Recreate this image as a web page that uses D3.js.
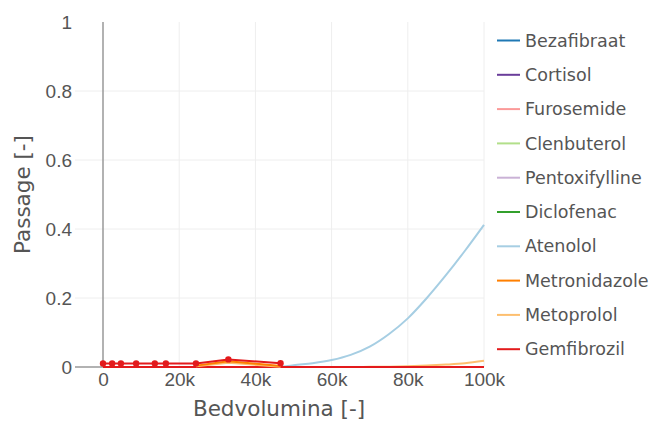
<!DOCTYPE html>
<html>
<head>
<meta charset="utf-8">
<script src="https://cdn.jsdelivr.net/npm/d3@7"></script>
<style>
  html, body { margin: 0; padding: 0; background: #fff; }
  svg { display: block; font-family: "DejaVu Sans", Verdana, sans-serif; }
</style>
</head>
<body>
<svg id="chart" width="654" height="433"></svg>
<script>
// Compounds and their line colours
const compounds = ["Bezafibraat", "Cortisol", "Furosemide", "Clenbuterol", "Pentoxifylline",
                   "Diclofenac", "Atenolol", "Metronidazole", "Metoprolol", "Gemfibrozil"];
const colors = ["#1f78b4", "#6a3d9a", "#fb9a99", "#b2df8a", "#cab2d6",
                "#33a02c", "#a6cee3", "#ff7f00", "#fdbf6f", "#e31a1c"];

// Modelled breakthrough curves (bed volumes vs. passage)
const modelX = [0, 45000, 48000, 50000, 55000, 60000, 65000, 70000, 75000, 80000, 85000, 90000, 95000, 100000];
const modelY = {
  Bezafibraat:    [0, 0, 0, 0, 0, 0, 0, 0, 0, 0, 0, 0, 0, 0],
  Cortisol:       [0, 0, 0, 0, 0, 0, 0, 0, 0, 0, 0, 0, 0, 0],
  Furosemide:     [0, 0, 0, 0, 0, 0, 0, 0, 0, 0, 0, 0, 0, 0],
  Clenbuterol:    [0, 0, 0, 0, 0, 0, 0, 0, 0, 0, 0, 0, 0, 0],
  Pentoxifylline: [0, 0, 0, 0, 0, 0, 0, 0, 0, 0, 0, 0, 0, 0],
  Diclofenac:     [0, 0, 0, 0, 0, 0, 0, 0, 0, 0, 0, 0, 0, 0],
  Atenolol:       [0, 0, 0.002, 0.005, 0.011, 0.02, 0.035, 0.059, 0.095, 0.141, 0.2, 0.266, 0.337, 0.412],
  Metronidazole:  [0, 0, 0, 0, 0, 0, 0, 0, 0, 0, 0, 0, 0, 0],
  Metoprolol:     [0, 0, 0, 0, 0, 0, 0, 0.0005, 0.001, 0.002, 0.004, 0.007, 0.011, 0.018],
  Gemfibrozil:    [0, 0, 0, 0, 0, 0, 0, 0, 0, 0, 0, 0, 0, 0]
};

// Measured samples
const gemX = [0, 2400, 4700, 8700, 13600, 16500, 24400, 32900, 46600];
const gemY = [0.01, 0.01, 0.01, 0.01, 0.01, 0.01, 0.01, 0.022, 0.011];
const sampleX = [24400, 32900, 46600];
const metronidazoleY = [0.004, 0.017, 0.003];
const metoprololY = [0.002, 0.012, 0.001];

// Axis ticks
const xTicks = [0, 20000, 40000, 60000, 80000, 100000];
const xTickLabels = ["0", "20k", "40k", "60k", "80k", "100k"];
const yTicks = [0, 0.2, 0.4, 0.6, 0.8, 1];
const yTickLabels = ["0", "0.2", "0.4", "0.6", "0.8", "1"];

const svg = d3.select("#chart");
const plot = { left: 75, right: 484, top: 22, bottom: 367 };

const x = d3.scaleLinear().domain([-7350, 100000]).range([plot.left, plot.right]);
const y = d3.scaleLinear().domain([0, 1]).range([plot.bottom, plot.top]);

const textColor = "#555";

// Grid
const grid = svg.append("g");
grid.selectAll("line.gx").data(xTicks.filter(d => d !== 0)).join("line")
  .attr("x1", d => x(d)).attr("x2", d => x(d))
  .attr("y1", plot.top).attr("y2", plot.bottom)
  .attr("stroke", "#eee").attr("stroke-width", 1);
grid.selectAll("line.gy").data(yTicks.filter(d => d !== 0 && d !== 1)).join("line")
  .attr("x1", plot.left).attr("x2", plot.right)
  .attr("y1", d => y(d)).attr("y2", d => y(d))
  .attr("stroke", "#eee").attr("stroke-width", 1);

// Zero lines
svg.append("line")
  .attr("x1", x(0)).attr("x2", x(0)).attr("y1", plot.top).attr("y2", plot.bottom)
  .attr("stroke", "#999").attr("stroke-width", 1.5);
svg.append("line")
  .attr("x1", plot.left).attr("x2", plot.right).attr("y1", y(0)).attr("y2", y(0))
  .attr("stroke", "#999").attr("stroke-width", 1.5);

// Axes
const xAxis = d3.axisBottom(x).tickValues(xTicks)
  .tickFormat((d, i) => xTickLabels[i]).tickSize(0).tickPadding(6);
const gx = svg.append("g").attr("transform", `translate(0,${plot.bottom})`).call(xAxis);
gx.select(".domain").remove();
gx.selectAll("text").attr("fill", textColor).style("font-size", "19px")
  .attr("dy", "0.66em");

const yAxis = d3.axisLeft(y).tickValues(yTicks)
  .tickFormat((d, i) => yTickLabels[i]).tickSize(0).tickPadding(3);
const gy = svg.append("g").attr("transform", `translate(${plot.left},0)`).call(yAxis);
gy.select(".domain").remove();
gy.selectAll("text").attr("fill", textColor).style("font-size", "19px");

// Axis titles
svg.append("text")
  .attr("x", 279).attr("y", 416)
  .attr("text-anchor", "middle").attr("fill", textColor)
  .style("font-size", "21.5px").text("Bedvolumina [-]");
svg.append("text")
  .attr("transform", `translate(30,${(plot.top + plot.bottom) / 2}) rotate(-90)`)
  .attr("text-anchor", "middle").attr("fill", textColor)
  .style("font-size", "21.5px").text("Passage [-]");

// Plot clip
svg.append("clipPath").attr("id", "clip").append("rect")
  .attr("x", plot.left).attr("y", plot.top - 4)
  .attr("width", plot.right - plot.left + 2).attr("height", plot.bottom - plot.top + 8);
const series = svg.append("g").attr("clip-path", "url(#clip)");

const smooth = d3.line().x(d => x(d[0])).y(d => y(d[1])).curve(d3.curveMonotoneX);
const straight = d3.line().x(d => x(d[0])).y(d => y(d[1]));

// Model curves
compounds.forEach((name, i) => {
  const pts = modelX.map((vx, j) => [vx, modelY[name][j]]);
  series.append("path").datum(pts)
    .attr("d", smooth).attr("fill", "none")
    .attr("stroke", colors[i]).attr("stroke-width", 2);
});

// Measured samples
const mIdx = compounds.indexOf("Metoprolol");
const nIdx = compounds.indexOf("Metronidazole");
const gIdx = compounds.indexOf("Gemfibrozil");

series.append("path").datum(sampleX.map((vx, j) => [vx, metoprololY[j]]))
  .attr("d", straight).attr("fill", "none")
  .attr("stroke", colors[mIdx]).attr("stroke-width", 2);
series.append("path").datum(sampleX.map((vx, j) => [vx, metronidazoleY[j]]))
  .attr("d", straight).attr("fill", "none")
  .attr("stroke", colors[nIdx]).attr("stroke-width", 2);

const gemPts = gemX.map((vx, j) => [vx, gemY[j]]);
series.append("path").datum(gemPts)
  .attr("d", straight).attr("fill", "none")
  .attr("stroke", colors[gIdx]).attr("stroke-width", 2);
series.selectAll("circle.gem").data(gemPts).join("circle")
  .attr("cx", d => x(d[0])).attr("cy", d => y(d[1])).attr("r", 3.2)
  .attr("fill", colors[gIdx]);

// Legend
const legend = svg.append("g");
compounds.forEach((name, i) => {
  const ly = 40.5 + i * 34.3;
  legend.append("line")
    .attr("x1", 497).attr("x2", 520).attr("y1", ly).attr("y2", ly)
    .attr("stroke", colors[i]).attr("stroke-width", 2);
  legend.append("text")
    .attr("x", 525).attr("y", ly).attr("dy", "0.35em")
    .attr("fill", textColor).style("font-size", "17.5px").text(name);
});
</script>
</body>
</html>
